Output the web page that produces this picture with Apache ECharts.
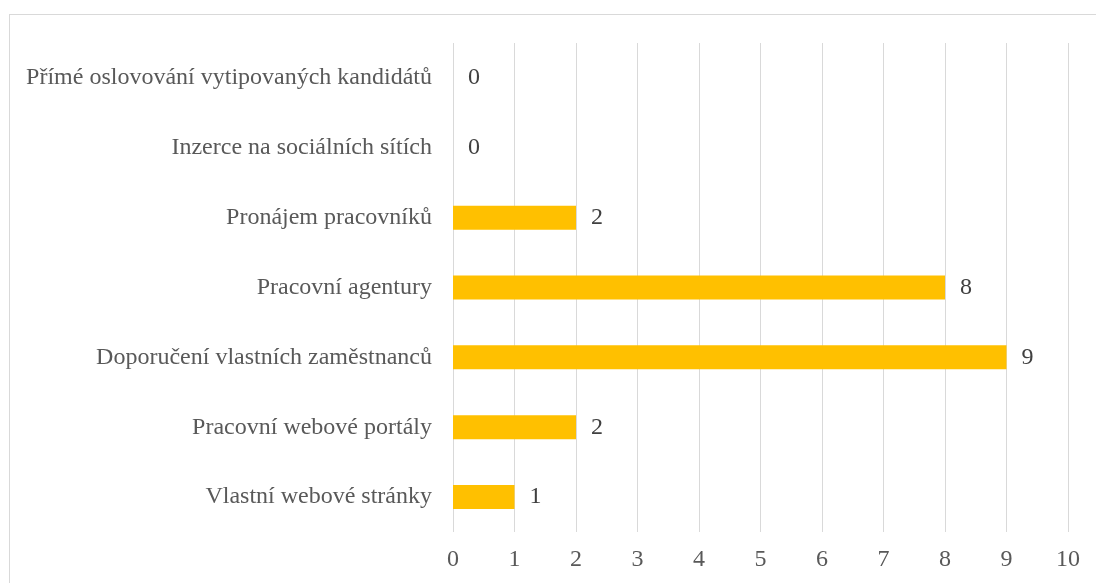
<!DOCTYPE html>
<html>
<head>
<meta charset="utf-8">
<script src="https://cdn.jsdelivr.net/npm/echarts@6/dist/echarts.min.js"></script>
<style>
html,body{margin:0;padding:0;background:#fff;}
#frame{position:absolute;left:9px;top:14px;width:1200px;height:700px;border:1px solid #d9d9d9;box-sizing:border-box;}
#chart{position:absolute;left:0;top:0;width:1096px;height:583px;}
</style>
</head>
<body>
<div id="frame"></div>
<div id="chart"></div>
<script>
const categories = [
  "Vlastní webové stránky",
  "Pracovní webové portály",
  "Doporučení vlastních zaměstnanců",
  "Pracovní agentury",
  "Pronájem pracovníků",
  "Inzerce na sociálních sítích",
  "Přímé oslovování vytipovaných kandidátů"
];
const values = [1, 2, 9, 8, 2, 0, 0];
const xTicks = [0, 1, 2, 3, 4, 5, 6, 7, 8, 9, 10];

const chart = echarts.init(document.getElementById('chart'), null, {renderer: 'canvas'});
const font = "'Liberation Serif', 'Times New Roman', serif";
chart.setOption({
  animation: false,
  grid: {left: 453, right: 28, top: 43, bottom: 51, containLabel: false},
  xAxis: {
    type: 'value',
    min: xTicks[0],
    max: xTicks[xTicks.length - 1],
    interval: 1,
    axisLine: {show: false},
    axisTick: {show: false},
    splitLine: {show: true, lineStyle: {color: '#d9d9d9', width: 1}},
    axisLabel: {color: '#595959', fontFamily: font, fontSize: 24, margin: 16}
  },
  yAxis: {
    type: 'category',
    data: categories,
    axisLine: {show: false},
    axisTick: {show: false},
    splitLine: {show: false},
    axisLabel: {color: '#595959', fontFamily: font, fontSize: 24, margin: 21}
  },
  series: [{
    type: 'bar',
    data: values,
    barWidth: 24,
    itemStyle: {color: '#FFC000'},
    label: {
      show: true,
      position: 'right',
      distance: 15,
      color: '#404040',
      fontFamily: font,
      fontSize: 24
    }
  }]
});
</script>
</body>
</html>
